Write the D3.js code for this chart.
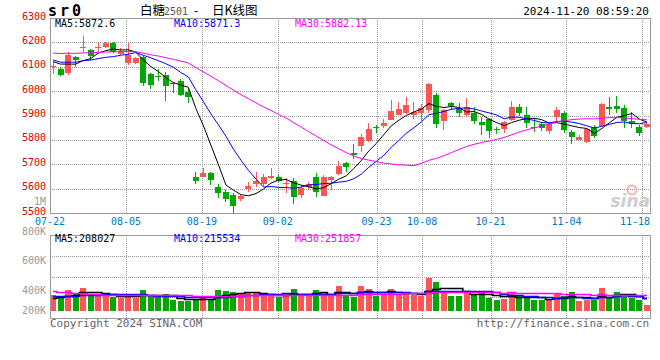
<!DOCTYPE html>
<meta charset="utf-8">
<head>
<style>
  body { margin:0; background:#fff; }
  text { font-family:"DejaVu Sans Mono", monospace; font-size:10px; }
</style>
</head>

<script src="https://d3js.org/d3.v7.min.js"></script>

<div id="my_dataviz"></div>

<script>

// daily bars, 07-22 .. 11-19
var open  = [6100,6091,6076,6141,6176,6168,6176,6183,6197,6152, 6115,6115,6140,6070,6064,6066,6035,6043,5996,5649,
             5649,5664,5608,5585,5574,5556,5598,5619,5622,5645, 5648,5621,5631,5574,5605,5649,5571,5633,5660,5704,
             5745,5776,5797,5851,5858,5882,5902,5911,5905,5911, 5922,5984,5879,5950,5930,5902,5909,5875,5884,5846,
             5848,5882,5936,5902,5853,5865,5834,5895,5909,5834, 5802,5793,5854,5857,5936,5940,5930,5879,5854,5854];
var high  = [6121,6098,6162,6144,6226,6172,6199,6203,6203,6176, 6197,6140,6145,6074,6090,6080,6039,6050,6013,5668,
             5685,5668,5619,5594,5581,5574,5626,5667,5660,5686, 5656,5642,5642,5615,5628,5663,5656,5652,5715,5710,
             5783,5824,5868,5861,5884,5964,5957,5977,5957,5947, 6035,5992,5925,5957,5950,5970,5936,5895,5888,5854,
             5879,5960,5947,5936,5889,5875,5868,5936,5920,5841, 5820,5848,5861,5950,5977,5980,5943,5916,5861,5872];
var low   = [6070,6062,6066,6101,6162,6128,6156,6176,6155,6148, 6107,6110,6023,6008,6043,5961,5992,5981,5953,5619,
             5647,5615,5562,5546,5500,5550,5587,5608,5611,5638, 5628,5583,5537,5560,5597,5567,5571,5594,5656,5669,
             5722,5749,5793,5829,5847,5882,5902,5906,5886,5879, 5909,5849,5840,5923,5895,5893,5865,5820,5809,5824,
             5830,5879,5898,5847,5834,5838,5824,5875,5829,5783, 5799,5788,5806,5854,5902,5911,5850,5847,5816,5850];
var close = [6104,6066,6148,6128,6180,6144,6179,6199,6160,6162, 6148,6135,6035,6025,6062,6021,6033,5984,5977,5632,
             5664,5635,5585,5556,5530,5570,5612,5631,5649,5653, 5631,5623,5564,5601,5619,5587,5649,5646,5693,5686,
             5738,5811,5845,5845,5870,5918,5925,5943,5916,5930, 6030,5866,5923,5936,5911,5936,5875,5864,5836,5844,
             5875,5936,5913,5868,5851,5847,5864,5923,5840,5813, 5813,5845,5819,5946,5927,5927,5877,5865,5829,5865];
var volume = [256000,229000,336000,293000,373000,272000,240000,240000,229000,213000,
              267000,213000,336000,245000,219000,272000,176000,160000,165000,192000,
              240000,192000,336000,320000,304000,288000,304000,283000,240000,240000,
              229000,272000,352000,272000,240000,336000,283000,267000,400000,256000,
              229000,400000,352000,245000,272000,352000,272000,272000,256000,245000,
              535000,466000,322000,246000,246000,290000,274000,322000,210000,178000,
              194000,306000,234000,226000,178000,178000,182000,270000,242000,301370,
              160000,180000,179000,372205,224000,300000,268000,205000,172000,95135];

// the 29 sessions before 07-22, only feed the moving averages
var prevClose  = [6110,6125,6140,6118,6135,6150,6128,6142,6120,6132,
                  6180,6205,6230,6215,6240,6222,6198,6210,6205,6195,
                  6160,6145,6130,6120,6120,6116,6148,6130,6107];
var prevVolume = [520000,580000,610000,490000,560000,510000,510000,
                  240000,265000,230000,250000,260000,245000,255000,240000,265000,
                  310000,280000,300000,280000,
                  280000,250000,270000,265000,270000,
                  195000,210000,200000,204000];

var tickIndex  = [0, 10, 20, 30, 43, 49, 58, 68, 78];
var tickLabels = ["07-22","08-05","08-19","09-02","09-23","10-08","10-21","11-04","11-18"];
var priceTicks = [5500, 5600, 5700, 5800, 5900, 6000, 6100, 6200, 6300];
var volTicks   = [200000, 400000, 600000, 800000];
var maPeriods  = [5, 10, 30];
var maColors   = ["#000000", "#0000ff", "#ff00ff"];

var upColor = "#ff5555", downColor = "#00a800";
var gridColor = "#999", frameColor = "#999";

// layout
var left = 50, right = 650;
var pTop = 18, pBot = 213;
var vTop = 235, vBot = 318, vBase = 311;

var svg = d3.select("#my_dataviz")
  .append("svg")
    .attr("width", 660)
    .attr("height", 360);

var n = close.length;
var idx = d3.range(n);

var x = d3.scaleBand().domain(idx).range([left, right]).paddingInner(0.2);
var xg = d3.scalePoint().domain(idx).range([left, right]);
var y = d3.scaleLinear().domain([5500, 6300]).range([pBot, pTop]);
var yv = d3.scaleLinear().domain([0, 1216000]).range([vBase, vTop]);
// sina puts the volume labels unevenly
var yvLabel = d3.scaleLinear().domain([200000, 400000, 800000]).range([310, 290, 231]);

function movingAvg(prev, vals, p) {
  var all = prev.concat(vals), k = prev.length;
  return vals.map(function(d, i) { return d3.mean(all.slice(k + i - p + 1, k + i + 1)); });
}
var priceMA = maPeriods.map(function(p) { return movingAvg(prevClose, close, p); });
var volMA = maPeriods.map(function(p) { return movingAvg(prevVolume, volume, p); });

function cx(i) { return Math.floor(x(i) + x.bandwidth() / 2) + 0.5; }

// ---- grid ----
var grid = svg.append("g")
  .attr("stroke", gridColor)
  .attr("stroke-dasharray", "1,1")
  .attr("shape-rendering", "crispEdges");

grid.selectAll(".hp")
  .data(priceTicks.slice(1, -1))
  .enter().append("line")
    .attr("x1", left).attr("x2", right)
    .attr("y1", function(d) { return Math.round(y(d)) + 0.5; })
    .attr("y2", function(d) { return Math.round(y(d)) + 0.5; });

grid.selectAll(".hv")
  .data([1, 2, 3])
  .enter().append("line")
    .attr("x1", left).attr("x2", right)
    .attr("y1", function(k) { return Math.round(vTop + k * (vBot - vTop) / 4) + 0.5; })
    .attr("y2", function(k) { return Math.round(vTop + k * (vBot - vTop) / 4) + 0.5; });

[[pTop, pBot], [vTop, vBot]].forEach(function(r) {
  grid.selectAll(null)
    .data(tickIndex.slice(1))
    .enter().append("line")
      .attr("x1", function(d) { return Math.round(xg(d)) + 0.5; })
      .attr("x2", function(d) { return Math.round(xg(d)) + 0.5; })
      .attr("y1", r[0]).attr("y2", r[1]);
});

// ---- watermark ----
var wm = svg.append("g");
wm.append("circle").attr("cx", 632).attr("cy", 190).attr("r", 4.5)
  .attr("fill", "none").attr("stroke", "#f3b4b4").attr("stroke-width", 2);
wm.append("text").attr("x", 650).attr("y", 207).attr("text-anchor", "end")
  .style("font-family", "DejaVu Sans").style("font-size", "17px")
  .style("font-style", "italic").style("font-weight", "bold")
  .attr("fill", "#cdcdcd").text("sina");

// ---- candles ----
var candles = svg.append("g").attr("shape-rendering", "crispEdges");

candles.selectAll("line")
  .data(idx)
  .enter().append("line")
    .attr("x1", cx).attr("x2", cx)
    .attr("y1", function(i) { return y(high[i]); })
    .attr("y2", function(i) { return y(low[i]); })
    .attr("stroke", function(i) { return close[i] >= open[i] ? upColor : downColor; });

candles.selectAll("rect")
  .data(idx)
  .enter().append("rect")
    .attr("x", function(i) { return Math.round(x(i)); })
    .attr("width", Math.round(x.bandwidth()))
    .attr("y", function(i) { return Math.round(y(Math.max(open[i], close[i]))); })
    .attr("height", function(i) { return Math.max(1, Math.round(Math.abs(y(open[i]) - y(close[i])))); })
    .attr("fill", function(i) { return close[i] >= open[i] ? upColor : downColor; });

// ---- price moving averages ----
var maLine = d3.line()
  .x(function(d, i) { return x(i) + x.bandwidth() / 2; })
  .y(function(d) { return y(d); });

svg.append("g").selectAll("path")
  .data(priceMA)
  .enter().append("path")
    .attr("d", maLine)
    .attr("fill", "none")
    .attr("stroke", function(d, k) { return maColors[k]; })
    .attr("stroke-width", 1);

// ---- volume ----
svg.append("g").attr("shape-rendering", "crispEdges")
  .selectAll("rect")
  .data(idx)
  .enter().append("rect")
    .attr("x", function(i) { return Math.round(x(i)); })
    .attr("width", Math.round(x.bandwidth()))
    .attr("y", function(i) { return Math.round(yv(volume[i])); })
    .attr("height", function(i) { return vBase - Math.round(yv(volume[i])); })
    .attr("fill", function(i) { return close[i] >= open[i] ? upColor : downColor; });

var volLine = d3.line()
  .curve(d3.curveStep)
  .x(function(d, i) { return x(i) + x.bandwidth() / 2; })
  .y(function(d) { return Math.round(yv(d)) + 0.5; });

svg.append("g").selectAll("path")
  .data(volMA)
  .enter().append("path")
    .attr("d", volLine)
    .attr("fill", "none")
    .attr("stroke", function(d, k) { return maColors[k]; })
    .attr("stroke-width", 1.6);

// ---- frames ----
[[pTop, pBot], [vTop, vBot]].forEach(function(r) {
  svg.append("rect")
    .attr("x", left + 0.5).attr("y", r[0] + 0.5)
    .attr("width", right - left).attr("height", r[1] - r[0])
    .attr("fill", "none").attr("stroke", frameColor)
    .attr("shape-rendering", "crispEdges");
});

// ---- axis labels ----
svg.append("g").selectAll("text")
  .data(priceTicks)
  .enter().append("text")
    .attr("x", 46)
    .attr("y", function(d) { return y(d) - 2; })
    .attr("dy", "0.35em")
    .attr("text-anchor", "end")
    .attr("fill", "#dd0000")
    .text(function(d) { return d; });

svg.append("text").attr("x", 46).attr("y", 201).attr("dy", "0.35em")
  .attr("text-anchor", "end").attr("fill", "#999").text("1M");

svg.append("g").selectAll("text")
  .data(volTicks)
  .enter().append("text")
    .attr("x", 46)
    .attr("y", function(d) { return yvLabel(d); })
    .attr("dy", "0.35em")
    .attr("text-anchor", "end")
    .attr("fill", "#999")
    .text(function(d) { return (d / 1000) + "K"; });

svg.append("g").selectAll("text")
  .data(tickIndex)
  .enter().append("text")
    .attr("x", function(d) { return Math.min(xg(d), right - 15); })
    .attr("y", 221.5)
    .attr("dy", "0.35em")
    .attr("text-anchor", "middle")
    .attr("fill", "#0078c8")
    .text(function(d, k) { return tickLabels[k]; });

// ---- legends ----
var labelX = [55, 174, 295];
var last = n - 1;
var priceFmt = [function(v) { return v.toFixed(1); }, function(v) { return v.toFixed(1); }, function(v) { return v.toFixed(2); }];

svg.append("g").selectAll("text")
  .data(maPeriods)
  .enter().append("text")
    .attr("x", function(d, k) { return labelX[k]; })
    .attr("y", 23.5).attr("dy", "0.35em")
    .attr("fill", function(d, k) { return maColors[k]; })
    .text(function(d, k) { return "MA" + d + ":" + priceFmt[k](priceMA[k][last]); });

svg.append("g").selectAll("text")
  .data(maPeriods)
  .enter().append("text")
    .attr("x", function(d, k) { return labelX[k]; })
    .attr("y", 238.5).attr("dy", "0.35em")
    .attr("fill", function(d, k) { return maColors[k]; })
    .text(function(d, k) { return "MA" + d + ":" + Math.round(volMA[k][last]); });

// ---- titles ----
svg.append("text").attr("x", 48).attr("y", 16)
  .style("font-size", "15px").style("font-weight", "bold")
  .style("letter-spacing", "3px")
  .attr("fill", "#000").text("sr0");

var cn = svg.append("text").attr("y", 14.5)
  .style("font-family", "'Noto Sans CJK SC', sans-serif").style("font-size", "12.5px").attr("fill", "#000");
cn.append("tspan").attr("x", 140).text("白糖");
cn.append("tspan").attr("x", 164).attr("fill", "#555").style("font-family", "'DejaVu Sans Mono', monospace").style("font-size", "10px").text("2501");
cn.append("tspan").attr("x", 194).text("-");
cn.append("tspan").attr("x", 212).text("日K线图");

svg.append("text").attr("x", 649).attr("y", 11.5).attr("dy", "0.35em")
  .attr("text-anchor", "end").attr("fill", "#000").style("font-size", "11px")
  .text("2024-11-20 08:59:20");

svg.append("text").attr("x", 50).attr("y", 323.5).attr("dy", "0.35em")
  .attr("fill", "#666").style("font-size", "11px").text("Copyright 2024 SINA.COM");

svg.append("text").attr("x", 649).attr("y", 323.5).attr("dy", "0.35em")
  .attr("text-anchor", "end").attr("fill", "#666").style("font-size", "11px")
  .text("http://finance.sina.com.cn");

</script>
